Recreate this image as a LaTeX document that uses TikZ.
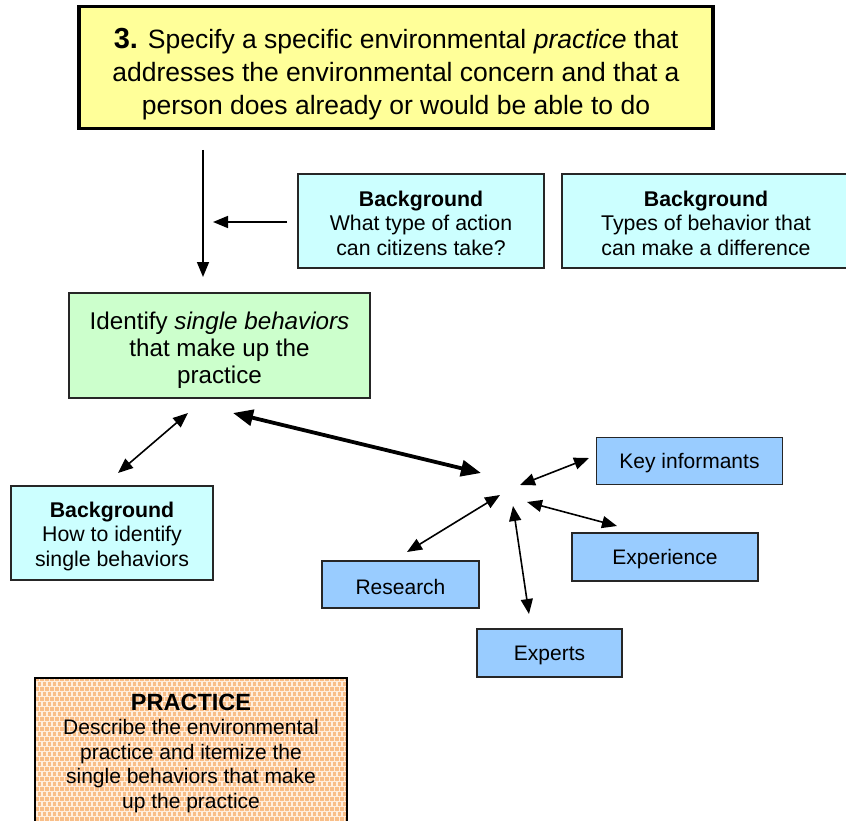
\documentclass[tikz,border=0pt]{standalone}
\usepackage{fontspec}
\setmainfont{Liberation Sans}
\usetikzlibrary{arrows.meta,patterns.meta}

\definecolor{noteyellow}{HTML}{FFFF99}
\definecolor{bgcyan}{HTML}{CCFFFF}
\definecolor{stepgreen}{HTML}{CCFFCC}
\definecolor{srcblue}{HTML}{99CCFF}
\definecolor{peachbg}{HTML}{FFEEDD}
\definecolor{peachdot}{HTML}{F9BE88}

% invisible strut that lowers the text block inside a box
\newcommand\boxlift[1]{\rule{0pt}{#1}}

% staggered grid of small squares for the practice box
\tikzdeclarepattern{
  name=peachdots, type=uncolored,
  bottom left={(-0.1pt,-0.1pt)}, top right={(10.1pt,10.1pt)},
  tile size={(10pt,10pt)},
  code={
    \fill (0.4pt,0.4pt) rectangle (3.6pt,3.6pt);
    \fill (5.4pt,0.4pt) rectangle (8.6pt,3.6pt);
    \fill (2.9pt,5.4pt) rectangle (6.1pt,8.6pt);
    \fill (7.9pt,5.4pt) rectangle (11.1pt,8.6pt);
    \fill (-2.1pt,5.4pt) rectangle (1.1pt,8.6pt);
  }}

\begin{document}
\begin{tikzpicture}[x=1pt,y=-1pt,
  box/.style={draw=black!85, line width=1.4pt, align=center, inner sep=0pt},
  topbox/.style={box, draw=black, line width=3.5pt, fill=noteyellow,
    minimum width=634pt, minimum height=122pt,
    font=\fontsize{26.5}{33}\selectfont},
  bgbox/.style={box, fill=bgcyan, minimum width=246pt, minimum height=94pt,
    font=\fontsize{21.3}{24.5}\selectfont},
  stepbox/.style={box, fill=stepgreen, minimum width=301pt, minimum height=105pt,
    font=\fontsize{24.2}{27}\selectfont},
  srcbox/.style={box, fill=srcblue, minimum height=47pt,
    font=\fontsize{21}{25}\selectfont},
  practicebox/.style={box, draw=black, line width=1.8pt,
    preaction={fill=peachbg},
    preaction={pattern=peachdots, pattern color=peachdot},
    minimum width=312pt, minimum height=150pt,
    font=\fontsize{21}{24.5}\selectfont},
  thinarrow/.style={line width=1.6pt, -{Triangle[length=15pt,width=12pt]}},
  thinboth/.style={line width=1.6pt,
    {Triangle[length=15pt,width=12pt]}-{Triangle[length=15pt,width=12pt]}},
  thickboth/.style={line width=3.8pt,
    {Triangle[length=20pt,width=16pt]}-{Triangle[length=20pt,width=16pt]}}
]
\clip (0,0) rectangle (846,821);
\useasboundingbox (0,0) rectangle (846,821);

% boxes
\node[topbox] (concern) at (396,67.5)
  {\boxlift{34pt}{\fontsize{29}{33}\selectfont\bfseries 3.} Specify a specific environmental \textit{practice} that\\
   addresses the environmental concern and that a\\
   person does already or would be able to do};

\node[bgbox] (actions) at (421,221)
  {\boxlift{19.5pt}\textbf{Background}\\What type of action\\can citizens take?};
\node[bgbox, minimum width=288pt] (types) at (706,221)
  {\boxlift{19.5pt}\textbf{Background}\\Types of behavior that\\can make a difference};

\node[stepbox] (identify) at (219.5,345.5)
  {\boxlift{27.6pt}Identify \textit{single behaviors}\\that make up the\\practice};

\node[bgbox, minimum width=202pt] (howto) at (112,533)
  {\boxlift{21.5pt}\textbf{Background}\\How to identify\\single behaviors};

\node[srcbox, minimum width=186pt] (informants) at (689.5,461) {\boxlift{20.3pt}Key informants};
\node[srcbox, minimum width=186pt, minimum height=48pt] (experience) at (665,557) {\boxlift{20.3pt}Experience};
\node[srcbox, minimum width=157pt] (research) at (400.5,584.5) {\boxlift{20.3pt}Research};
\node[srcbox, minimum width=145pt, minimum height=48pt] (experts) at (549.5,653) {\boxlift{20.3pt}Experts};

\node[practicebox] (practice) at (191,753)
  {{\fontsize{23.5}{25}\selectfont\bfseries PRACTICE}\\
   Describe the environmental\\
   practice and itemize the\\
   single behaviors that make\\
   up the practice};

% arrow end points
\coordinate (downTop) at (203,150);
\coordinate (downEnd) at (203,277);
\coordinate (actStart) at (287,222);
\coordinate (actEnd) at (213,222);
\coordinate (idA) at (188,413);
\coordinate (howA) at (118,473);
\coordinate (idB) at (233,413);
\coordinate (hub) at (481,473);
\coordinate (hubK) at (520,485);
\coordinate (keyEnd) at (589,458);
\coordinate (hubE) at (527,502);
\coordinate (expEnd) at (617,526);
\coordinate (hubR) at (500,495);
\coordinate (resEnd) at (407,552);
\coordinate (hubX) at (513,506);
\coordinate (xptEnd) at (529,614);

% connectors
\draw[thinarrow] (downTop) -- (downEnd);
\draw[thinarrow] (actStart) -- (actEnd);
\draw[thinboth] (idA) -- (howA);
\draw[thickboth] (idB) -- (hub);
\draw[thinboth] (hubK) -- (keyEnd);
\draw[thinboth] (hubE) -- (expEnd);
\draw[thinboth] (hubR) -- (resEnd);
\draw[thinboth] (hubX) -- (xptEnd);
\end{tikzpicture}
\end{document}
